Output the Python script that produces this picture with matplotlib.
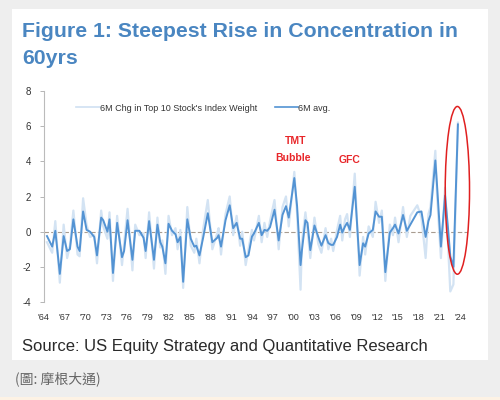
import matplotlib
matplotlib.use("Agg")
import matplotlib.pyplot as plt
from matplotlib.lines import Line2D
from matplotlib.patches import Ellipse, Rectangle

plt.rcParams['font.family'] = ['Liberation Sans', 'DejaVu Sans']
plt.rcParams['axes.unicode_minus'] = False

# dates (decimal years)
years = [1964.5, 1965.25, 1965.7, 1966.35, 1966.9, 1967.4, 1967.8, 1968.3, 1968.9, 1969.2,
         1969.7, 1970.2, 1970.7, 1971.3, 1971.7, 1972.3, 1972.6, 1973.2, 1973.5, 1974.0,
         1974.6, 1975.3, 1975.6, 1976.1, 1976.8, 1977.2, 1977.8, 1978.4, 1978.7, 1979.2,
         1979.9, 1980.4, 1980.8, 1981.1, 1981.55, 1982.0, 1982.5, 1983.0, 1983.3, 1983.7,
         1984.1, 1984.7, 1985.2, 1985.7, 1986.0, 1986.45, 1987.0, 1987.65, 1988.3, 1989.0,
         1989.2, 1989.55, 1990.2, 1990.8, 1991.3, 1991.8, 1992.3, 1992.6, 1993.1, 1993.5,
         1994.0, 1994.3, 1995.0, 1995.4, 1995.8, 1996.2, 1996.6, 1997.25, 1997.85, 1998.4,
         1998.9, 1999.3, 2000.1, 2000.5, 2001.0, 2001.2, 2001.7, 2002.0, 2002.4, 2003.0,
         2003.55, 2004.0, 2004.6, 2005.0, 2005.4, 2005.7, 2006.25, 2006.7, 2007.0, 2007.4,
         2007.7, 2008.1, 2008.8, 2009.5, 2010.0, 2010.3, 2010.8, 2011.4, 2011.8, 2012.3,
         2012.7, 2013.2, 2013.85, 2014.3, 2014.6, 2015.1, 2015.75, 2016.3, 2016.8, 2017.3,
         2017.8, 2018.4, 2019.0, 2019.4, 2019.7, 2020.4, 2020.65, 2021.2, 2021.8, 2022.2,
         2022.55, 2023.0, 2023.65]

# 6M avg
avg_chg = [-0.25, -0.85, 0.05, -2.4, -0.25, -1.1, -1.0, 0.7, -0.85, -1.1,
           1.15, 0.1, 0.0, -0.3, -1.35, 0.8, 0.65, 0.0, 0.7, -2.35,
           0.5, -1.45, -1.1, 0.65, -1.6, 0.05, 0.05, -0.35, -1.1, 0.6,
           -1.6, 0.4, -0.6, -0.85, -1.8, 0.45, 0.05, -0.15, -0.6, -0.3,
           -2.85, 0.7, -0.4, -0.85, -0.8, -1.35, -0.3, 1.05, -0.6, -0.35,
           -0.2, -0.85, 0.65, 1.5, 0.2, 0.5, -0.4, -0.4, -1.45, -1.35,
           -0.28, -0.1, 0.5, -0.2, 0.1, 0.05, 0.25, 1.25, -0.5, 0.95,
           1.45, 0.8, 3.05, 1.45, -1.9, -1.05, 0.65, 0.5, -1.05, 0.35,
           -0.3, -0.8, -0.2, -0.65, -0.75, -0.75, -0.3, 0.4, -0.05, 0.3,
           0.5, 0.1, 2.55, -1.9, -0.66, -0.85, -0.1, 0.1, 1.15, 0.85,
           0.85, -2.3, -0.05, 0.2, 0.4, -0.1, 0.95, 0.05, 0.4, 0.75,
           1.1, 1.15, -0.3, 0.6, 0.95, 4.05, 2.6, -0.85, 2.05, 0.3,
           -1.4, -2.0, 6.1]

# 6M Chg in Top 10 Stock's Index Weight (light, noisier)
raw_chg = [-0.6, -1.2, 0.6, -2.9, 0.4, -1.5, -0.8, 1.2, -1.3, -1.4,
           1.9, 0.4, -0.3, -0.2, -1.8, 1.2, 0.3, -0.4, 1.1, -2.8,
           0.9, -1.9, -0.7, 1.3, -2.2, 0.4, -0.2, -0.1, -1.5, 1.1,
           -2.1, 0.8, -0.9, -0.5, -2.4, 0.9, -0.2, 0.2, -1.0, 0.1,
           -3.2, 1.4, -0.8, -1.2, -0.4, -1.8, 0.2, 1.8, -1.0, -0.1,
           0.2, -1.3, 1.0, 2.0, -0.2, 0.9, -0.8, 0.0, -1.9, -1.0,
           0.1, -0.5, 0.9, -0.6, 0.5, -0.3, 0.6, 1.8, -1.0, 1.4,
           2.0, 0.3, 3.4, 1.0, -3.3, -0.6, 1.1, 0.1, -1.5, 0.8,
           -0.7, -1.2, 0.2, -1.0, -0.4, -1.1, 0.1, 0.9, -0.5, 0.7,
           1.0, -0.3, 3.3, -2.5, -0.3, -1.3, 0.3, -0.3, 1.7, 0.5,
           1.2, -2.8, 0.4, -0.2, 0.8, -0.6, 1.4, -0.3, 0.9, 1.2,
           1.5, 0.8, -1.5, 1.0, 1.4, 4.6, 2.0, -1.5, 2.5, -0.5,
           -3.4, -3.0, 6.2]

tick_years = list(range(1964, 2025, 3))
tick_labels = ["'%02d" % (y % 100) for y in tick_years]
y_ticks = [-4, -2, 0, 2, 4, 6, 8]

fig = plt.figure(figsize=(5, 4), dpi=100, facecolor='#eeeeee')

# white card behind the chart
fig.patches.append(Rectangle((0.024, 0.1), 0.952, 0.8775, transform=fig.transFigure,
                             facecolor='white', edgecolor='none', zorder=-2))
fig.patches.append(Rectangle((0, 0), 1, 0.008, transform=fig.transFigure,
                             facecolor='#fdf2e4', edgecolor='none', zorder=-2))

fig.text(0.044, 0.908, "Figure 1: Steepest Rise in Concentration in", fontsize=15.3,
         fontweight='bold', color='#4a86c1', va='baseline')
fig.text(0.044, 0.84, "60yrs", fontsize=15.3, fontweight='bold', color='#4a86c1', va='baseline')

ax = fig.add_axes([0.087, 0.245, 0.849, 0.5275])
ax.patch.set_alpha(0)

ax.plot(years, raw_chg, color='#d3e3f3', linewidth=1.6, zorder=2)
ax.plot(years, avg_chg, color='#5393d3', linewidth=1.4, zorder=3)
ax.axhline(0, color='#a89c90', linewidth=0.8, linestyle=(0, (4, 2)), zorder=1)

ax.set_xlim(1964, 2025.1)
ax.set_ylim(-4, 8)
ax.set_yticks(y_ticks)
ax.set_xticks(tick_years)
ax.set_xticklabels(tick_labels)
ax.tick_params(axis='y', labelsize=7, colors='#333333', length=3, width=0.6, pad=6)
ax.tick_params(axis='y', color='#aaaaaa')
ax.tick_params(axis='x', labelsize=6.5, colors='#333333', length=0, pad=8)
for side in ['top', 'right', 'bottom']:
    ax.spines[side].set_visible(False)
ax.spines['left'].set_color('#bbbbbb')
ax.spines['left'].set_linewidth(0.8)

# annotations
ax.text(2000.26, 5.13, "TMT", color='#e8262a', fontsize=7.5, fontweight='bold', ha='center', va='center')
ax.text(1999.97, 4.21, "Bubble", color='#e8262a', fontsize=7.5, fontweight='bold', ha='center', va='center')
ax.text(2008.0, 4.1, "GFC", color='#e8262a', fontsize=7.5, fontweight='bold', ha='center', va='center')
ax.add_patch(Ellipse((2023.57, 2.35), 3.5, 9.54, fill=False, edgecolor='#e02020',
                     linewidth=1.1, clip_on=False, zorder=4))

handles = [Line2D([], [], color='#cfe0f2', linewidth=1.2),
           Line2D([], [], color='#5393d3', linewidth=1.2)]
ax.legend(handles, ["6M Chg in Top 10 Stock's Index Weight", "6M avg."], loc='center left',
          bbox_to_anchor=(0.058, 0.919), ncol=2, frameon=False, fontsize=6.5,
          handlelength=2.6, handletextpad=0.05, columnspacing=1.9, labelcolor='#333333')

fig.text(0.044, 0.123, "Source: US Equity Strategy and Quantitative Research", fontsize=12,
         color='#2a2a2a', va='baseline')
fig.text(0.03, 0.043, "(圖: 摩根大通)", fontsize=10, color='#666666', va='baseline',
         family=['Noto Sans CJK TC', 'DejaVu Sans'])

fig.savefig("out.png", dpi=100, facecolor=fig.get_facecolor())
